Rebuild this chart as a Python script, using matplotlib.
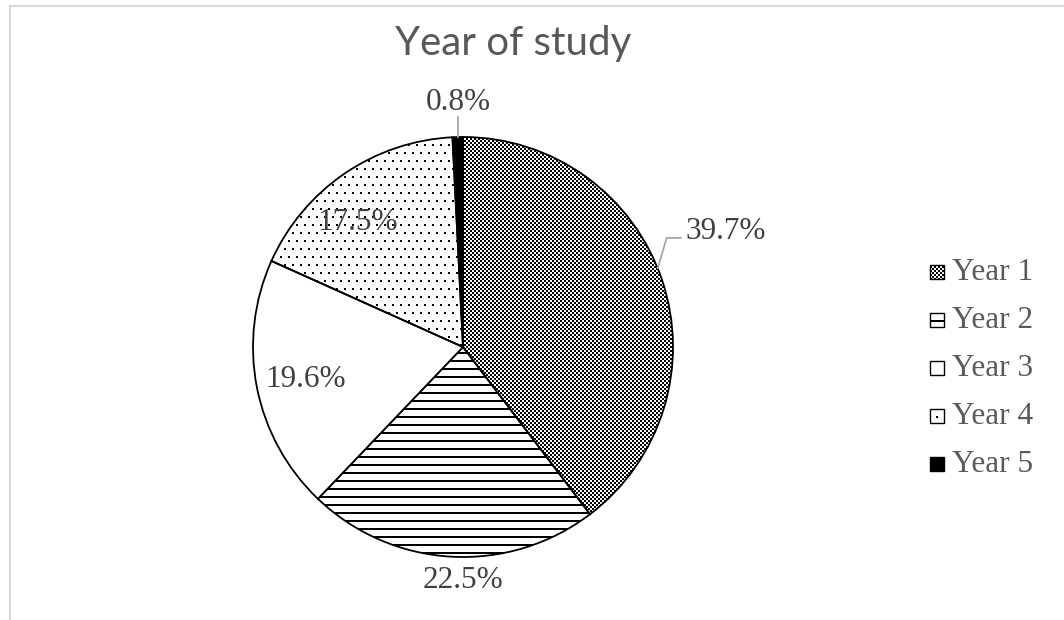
import numpy as np
import matplotlib.pyplot as plt
from matplotlib.patches import Rectangle
from matplotlib.lines import Line2D

W, H = 1064, 620

labels = ['Year 1', 'Year 2', 'Year 3', 'Year 4', 'Year 5']
shares = [39.7, 22.5, 19.6, 17.5, 0.8]
fills = ['checker', 'hlines', 'plain', 'dots', 'solid']

# label anchors relative to the pie centre, in units of the radius
label_dx = [1.252, 0.0, -0.752, -0.5, -0.024]
label_dy = [0.548, -1.11, -0.157, 0.595, 1.162]

cx, cy, R = 463, H - 347, 210

# pixel textures used to fill the slices
yy, xx = np.mgrid[0:H, 0:W]
textures = {
    'checker': (xx // 2 + yy // 2) % 2 == 0,
    'hlines': yy % 8 < 2,
    'dots': ((xx % 8 < 2) & (yy % 16 < 2)) | (((xx + 4) % 8 < 2) & ((yy + 8) % 16 < 2)),
}


def texture_rgb(mask):
    img = np.ones((H, W, 3))
    img[mask] = 0.0
    return img


def add_texture(ax, f, clip):
    im = ax.imshow(texture_rgb(textures[f]), extent=(0, W, 0, H), origin='upper',
                   interpolation='nearest', zorder=2)
    im.set_clip_path(clip)


face = {'checker': 'none', 'hlines': 'none', 'dots': 'none', 'plain': 'white', 'solid': 'black'}

fig = plt.figure(figsize=(W / 100, H / 100), dpi=100)
ax = fig.add_axes([0, 0, 1, 1])

wedges, _ = ax.pie(shares, colors=[face[f] for f in fills], startangle=90, counterclock=False,
                   center=(cx, cy), radius=R,
                   wedgeprops=dict(edgecolor='black', linewidth=1.3, zorder=3))

for w, f in zip(wedges, fills):
    if f in textures:
        add_texture(ax, f, w)

# value labels
for v, dx, dy in zip(shares, label_dx, label_dy):
    ax.text(cx + dx * R, cy + dy * R, f'{v:.1f}%', ha='center', va='center',
            fontsize=22.5, family='Liberation Serif', color='#404040', zorder=5)

# leader lines for the two labels outside the pie
t1 = np.deg2rad(22)
p0 = (cx + R * np.cos(t1), cy + R * np.sin(t1))
ly = cy + label_dy[0] * R - 6
ax.plot([p0[0], p0[0] + 9, p0[0] + 23], [p0[1], ly, ly], color='#a6a6a6', lw=1.3, zorder=4)
t5 = np.deg2rad((wedges[4].theta1 + wedges[4].theta2) / 2)
ax.plot([cx + R * np.cos(t5)] * 2, [cy + R * np.sin(t5), cy + R * np.sin(t5) + 20],
        color='#a6a6a6', lw=1.3, zorder=4)

# legend drawn by hand so the swatches carry the same textures
for i, (lab, f) in enumerate(zip(labels, fills)):
    y = H - (272 + 48 * i)
    sq = Rectangle((930, y - 7), 14, 14, facecolor=face[f], edgecolor='black', lw=1.0, zorder=3)
    ax.add_patch(sq)
    if f in textures:
        add_texture(ax, f, sq)
    ax.text(952, y, lab, ha='left', va='center', fontsize=22.5,
            family='Liberation Serif', color='#595959')

ax.text(513, H - 43, 'Year of study', ha='center', va='center', fontsize=29,
        family='Lato', color='#595959')

# chart area border (top and left edges visible)
ax.add_line(Line2D([9.5, 9.5, W], [0, H - 5.5, H - 5.5], color='#d9d9d9', lw=1.5))

ax.set_xlim(0, W)
ax.set_ylim(0, H)
ax.set_aspect('equal')
ax.axis('off')

fig.savefig('out.png', dpi=100)
